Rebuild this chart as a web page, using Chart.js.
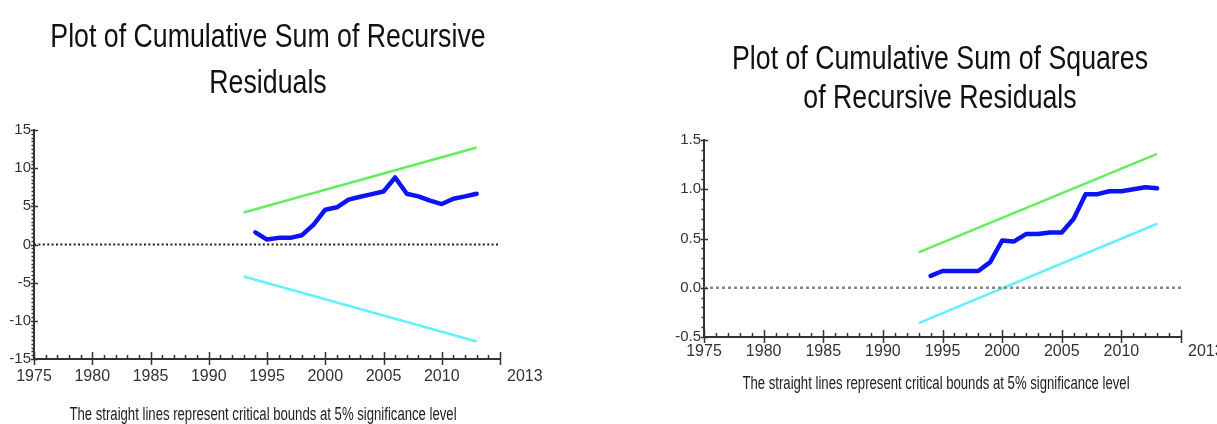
<!DOCTYPE html>
<html>
<head>
<meta charset="utf-8">
<script src="https://cdn.jsdelivr.net/npm/chart.js@4.4.1/dist/chart.umd.min.js"></script>
<style>
  html, body { margin: 0; padding: 0; background: #fff; }
  body { width: 1217px; height: 424px; position: relative; overflow: hidden; }
  .box { position: absolute; top: 0; height: 424px; }
  #leftBox { left: 0; width: 608px; }
  #rightBox { left: 608px; width: 609px; }
  .txt {
    position: absolute;
    white-space: nowrap;
    text-align: center;
    font-family: 'Liberation Sans', Arial, sans-serif;
    color: #111;
  }
  .title { font-size: 33px; transform: translateX(-50%) scaleX(0.81); }
  .note { font-size: 18px; line-height: 20px; color: #222; transform: translateX(-50%) scaleX(0.73); }
</style>
</head>
<body>
<div class="box" id="leftBox"><canvas id="cusumChart"></canvas></div>
<div class="box" id="rightBox"><canvas id="cusumsqChart"></canvas></div>
<div class="txt title" id="leftTitle" style="left:268px; top:13px; line-height:46px;"></div>
<div class="txt title" id="rightTitle" style="left:940px; top:38px; line-height:39px;"></div>
<div class="txt note" id="leftNote" style="left:263px; top:404px;"></div>
<div class="txt note" id="rightNote" style="left:936px; top:373px;"></div>
<script>
// yearly observations
const years = [1994, 1995, 1996, 1997, 1998, 1999, 2000, 2001, 2002, 2003,
               2004, 2005, 2006, 2007, 2008, 2009, 2010, 2011, 2012, 2013];
const cusumValues = [1.6, 0.65, 0.87, 0.87, 1.22, 2.6, 4.56, 4.87, 5.87, 6.26,
                     6.6, 6.95, 8.78, 6.65, 6.3, 5.74, 5.3, 6.0, 6.3, 6.65];
const cusumsqValues = [0.12, 0.17, 0.17, 0.17, 0.17, 0.26, 0.48, 0.47, 0.545, 0.545,
                       0.56, 0.56, 0.70, 0.95, 0.95, 0.98, 0.98, 1.0, 1.02, 1.01];

// critical bounds (straight lines, end points only)
const boundYears = [1993, 2013];
const cusumUpper = [4.2, 12.7];
const cusumLower = [-4.2, -12.7];
const cusumsqUpper = [0.36, 1.36];
const cusumsqLower = [-0.36, 0.65];

// axis
const zeroYears = [1975, 2015];
const xLabelYears = [1975, 1980, 1985, 1990, 1995, 2000, 2005, 2010];
const endLabel = '2013';

const leftTitle = ['Plot of Cumulative Sum of Recursive', 'Residuals'];
const rightTitle = ['Plot of Cumulative Sum of Squares', 'of Recursive Residuals'];
const footNote = 'The straight lines represent critical bounds at 5% significance level';

const FONT = "'Liberation Sans', Arial, sans-serif";
const AXIS_COLOR = '#333';
const LABEL_SIZE = 16;

function setLines(id, lines) {
    const el = document.getElementById(id);
    lines.forEach((line, i) => {
        if (i) el.appendChild(document.createElement('br'));
        el.appendChild(document.createTextNode(line));
    });
}
setLines('leftTitle', leftTitle);
setLines('rightTitle', rightTitle);
setLines('leftNote', [footNote]);
setLines('rightNote', [footNote]);

const toPoints = (xs, ys) => xs.map((x, i) => ({ x: x, y: ys[i] }));

// minor/major tick marks and the odd end label, drawn on the scales
const axisMarks = {
    id: 'axisMarks',
    afterDraw(chart, args, opts) {
        const { ctx, chartArea: a, scales: { x, y } } = chart;
        ctx.save();
        ctx.strokeStyle = AXIS_COLOR;
        ctx.lineWidth = 1.5;
        ctx.beginPath();
        for (let v = x.min; v <= x.max; v++) {
            const px = Math.round(x.getPixelForValue(v)) + 0.5;
            const major = v % 5 === 0;
            ctx.moveTo(px, a.bottom - (major ? 7 : 4));
            ctx.lineTo(px, a.bottom + (major ? 6 : 0));
        }
        const n = Math.round((y.max - y.min) / opts.yMinor);
        for (let i = 0; i <= n; i++) {
            const py = Math.round(y.getPixelForValue(y.min + i * opts.yMinor)) + 0.5;
            const major = i % opts.perMajor === 0;
            ctx.moveTo(a.left - (major ? 3 : 2.5), py);
            ctx.lineTo(a.left + (major ? 4 : 0), py);
        }
        ctx.stroke();
        ctx.fillStyle = AXIS_COLOR;
        ctx.font = `${LABEL_SIZE}px ${FONT}`;
        ctx.textAlign = 'left';
        ctx.textBaseline = 'middle';
        ctx.fillText(endLabel, a.right + 7, a.bottom + opts.labelGap);
        ctx.restore();
    }
};

function makeChart(id, cfg) {
    const ctx = document.getElementById(id).getContext('2d');
    return new Chart(ctx, {
        type: 'line',
        data: {
            datasets: [
                {
                    data: toPoints(zeroYears, [0, 0]),
                    borderColor: cfg.zeroColor,
                    borderWidth: cfg.zeroWidth,
                    borderDash: cfg.zeroDash,
                },
                {
                    data: toPoints(boundYears, cfg.upper),
                    borderColor: 'rgb(100, 238, 90)',
                    borderWidth: 2.5,
                },
                {
                    data: toPoints(boundYears, cfg.lower),
                    borderColor: 'rgb(100, 240, 250)',
                    borderWidth: 2.5,
                },
                {
                    data: toPoints(years, cfg.values),
                    borderColor: '#0a14f5',
                    borderWidth: 4.5,
                    borderCapStyle: 'round',
                    borderJoinStyle: 'round',
                }
            ]
        },
        options: {
            responsive: true,
            maintainAspectRatio: false,
            animation: false,
            elements: { point: { radius: 0 }, line: { tension: 0 } },
            layout: { padding: { top: cfg.padTop, bottom: 0, left: cfg.padLeft, right: cfg.padRight } },
            plugins: {
                legend: { display: false },
                tooltip: { enabled: false },
                title: { display: false },
                axisMarks: { yMinor: cfg.yMinor, perMajor: cfg.perMajor, labelGap: cfg.labelGap }
            },
            scales: {
                x: {
                    type: 'linear',
                    min: 1975,
                    max: 2015,
                    grid: { display: false, drawTicks: false },
                    border: { display: true, color: AXIS_COLOR, width: 2 },
                    ticks: {
                        stepSize: 5,
                        autoSkip: false,
                        maxRotation: 0,
                        padding: cfg.labelGap - 10,
                        color: AXIS_COLOR,
                        font: { family: FONT, size: LABEL_SIZE },
                        callback: v => xLabelYears.includes(v) ? String(v) : ''
                    },
                    afterFit: s => { s.height = cfg.xHeight; }
                },
                y: {
                    min: cfg.yMin,
                    max: cfg.yMax,
                    grid: { display: false, drawTicks: false },
                    border: { display: true, color: AXIS_COLOR, width: 2 },
                    ticks: {
                        stepSize: cfg.yStep,
                        padding: 3,
                        color: AXIS_COLOR,
                        font: { family: FONT, size: 15 },
                        callback: cfg.yFormat
                    },
                    afterFit: s => { s.width = cfg.yWidth; }
                }
            }
        },
        plugins: [axisMarks]
    });
}

makeChart('cusumChart', {
    values: cusumValues, upper: cusumUpper, lower: cusumLower,
    yMin: -15, yMax: 15, yStep: 5, yMinor: 0.5, perMajor: 10,
    yFormat: v => String(v),
    zeroColor: '#222', zeroWidth: 2, zeroDash: [2, 2.4],
    padTop: 130, padLeft: 0, padRight: 108, yWidth: 34, xHeight: 65,
    labelGap: 18
});

makeChart('cusumsqChart', {
    values: cusumsqValues, upper: cusumsqUpper, lower: cusumsqLower,
    yMin: -0.5, yMax: 1.5, yStep: 0.5, yMinor: 0.1, perMajor: 5,
    yFormat: v => v.toFixed(1),
    zeroColor: '#888', zeroWidth: 2.5, zeroDash: [3, 3],
    padTop: 140, padLeft: 60, padRight: 36, yWidth: 36, xHeight: 87,
    labelGap: 15
});
</script>
</body>
</html>
